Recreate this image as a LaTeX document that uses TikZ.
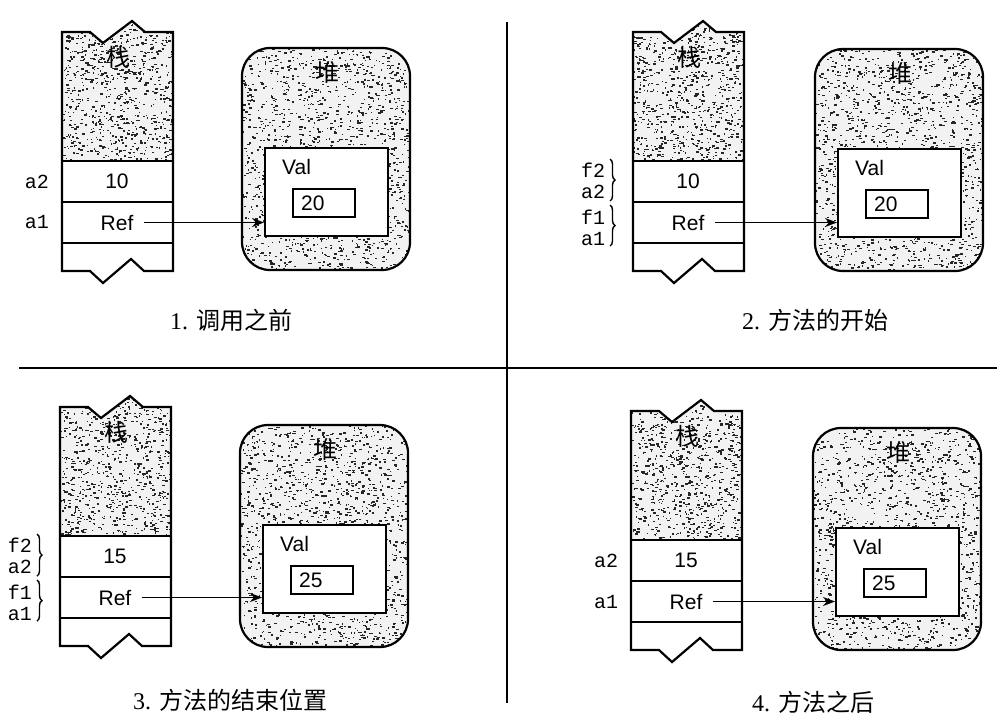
\documentclass[tikz,border=0pt]{standalone}
\usepackage{fontspec}
\setmainfont{Liberation Serif}
\setsansfont{Liberation Sans}
\setmonofont{Liberation Mono}
\newfontfamily\cjk{Noto Sans CJK SC}
\usetikzlibrary{arrows.meta,decorations.pathreplacing,calc}

\newcommand\rkspecks[5]{%
 \foreach \rkk in {1,...,#5}{%
  \pgfmathsetmacro\rkx{#1+rnd*(#3)}%
  \pgfmathsetmacro\rky{#2+rnd*(#4)}%
  \pgfmathsetmacro\rkw{0.8+2.4*rnd}%
  \fill[black!85] (\rkx,\rky) rectangle ++(\rkw,1.4);%
 }}

\tikzset{
 outline/.style={draw=black, line width=2.2pt},
 cellline/.style={draw=black, line width=1.8pt},
 celltext/.style={font=\sffamily\fontsize{21}{21}\selectfont, inner sep=0pt},
 cjklabel/.style={font=\cjk\fontsize{24}{24}\selectfont, inner sep=0pt},
 varlabel/.style={font=\ttfamily\fontsize{20}{20}\selectfont, inner sep=0pt},
 captiontext/.style={font=\fontsize{24}{24}\selectfont, inner sep=0pt},
 ptr/.style={line width=1.7pt, -{Stealth[length=12pt,width=9pt]}},
 divider/.style={line width=1.8pt},
 bracestyle/.style={decorate, decoration={brace, amplitude=5pt}, line width=1.4pt},
 texturebase/.style={fill=black!5},
}

% #1 prefix, #2 sx, #3 sy, #4 hx, #5 hy, #6 stack number, #7 heap number, #8 label mode
\newcommand\rkpanel[8]{%
 \begin{scope}
  \clip (#2,#3) -- ({#2+28},#3) -- ({#2+41},{#3+11}) -- ({#2+70},{#3-11}) -- ({#2+83},#3) -- ({#2+111},#3) -- ({#2+111},{#3+129}) -- (#2,{#3+129}) -- cycle;
  \fill[texturebase] (#2,{#3-12}) rectangle ({#2+111},{#3+129});
  \rkspecks{#2}{#3-12}{111}{141}{800}
 \end{scope}
 \draw[outline] (#2,#3) -- ({#2+28},#3) -- ({#2+41},{#3+11}) -- ({#2+70},{#3-11}) -- ({#2+83},#3) -- ({#2+111},#3)
   -- ({#2+111},{#3+239}) -- ({#2+82},{#3+239}) -- ({#2+69},{#3+227}) -- ({#2+41},{#3+251}) -- ({#2+28},{#3+239}) -- (#2,{#3+239}) -- cycle;
 \draw[cellline] (#2,{#3+129}) -- ({#2+111},{#3+129});
 \draw[cellline] (#2,{#3+170}) -- ({#2+111},{#3+170});
 \draw[cellline] (#2,{#3+211}) -- ({#2+111},{#3+211});
 \begin{scope}
  \clip[rounded corners=28pt] (#4,#5) rectangle ({#4+168},{#5+222});
  \fill[texturebase] (#4,#5) rectangle ({#4+168},{#5+222});
  \rkspecks{#4}{#5}{168}{222}{1500}
 \end{scope}
 \draw[outline, rounded corners=28pt] (#4,#5) rectangle ({#4+168},{#5+222});
 \node[draw, line width=2.2pt, fill=white, minimum width=123pt, minimum height=88pt, anchor=north west, inner sep=0pt] (#1vbox) at ({#4+22},{#5+99}) {};
 \node[celltext, anchor=west] (#1valtxt) at ({#4+40},{#5+119}) {Val};
 \node[draw, line width=1.9pt, minimum width=62pt, minimum height=28pt, anchor=north west, inner sep=0pt] (#1nbox) at ({#4+50},{#5+140}) {};
 \node[celltext, anchor=west] (#1ntxt) at ([xshift=9pt]#1nbox.west) {#7};
 \node[cjklabel] (#1stk) at ({#2+56},{#3+25}) {栈};
 \node[cjklabel] (#1hp) at ({#4+85},{#5+24}) {堆};
 \node[celltext] (#1snum) at ({#2+55},{#3+149.5}) {#6};
 \node[celltext] (#1ref) at ({#2+55},{#3+190.5}) {Ref};
 \draw[ptr] ([xshift=10pt]#1ref.east) -- (#1ref.east -| #1vbox.west);
 \ifnum#8=0
  \node[varlabel] (#1la2) at ({#2-25},{#3+149.5}) {a2};
  \node[varlabel] (#1la1) at ({#2-25},{#3+190.5}) {a1};
 \else
  \node[varlabel] (#1lf2) at ({#2-40},{#3+138}) {f2};
  \node[varlabel] (#1la2) at ({#2-40},{#3+160}) {a2};
  \node[varlabel] (#1lf1) at ({#2-40},{#3+185}) {f1};
  \node[varlabel] (#1la1) at ({#2-40},{#3+207}) {a1};
  \draw[bracestyle] ({#2-23},{#3+127}) -- ({#2-23},{#3+169});
  \draw[bracestyle] ({#2-23},{#3+173}) -- ({#2-23},{#3+214});
 \fi
}

\begin{document}
\begin{tikzpicture}[x=1pt,y=-1pt]
\useasboundingbox (0,0) rectangle (1003,724);
\fill[white] (0,0) rectangle (1003,724);
\pgfmathsetseed{12345}
\draw[divider] (507,22) -- (507,703);
\draw[divider] (19,368) -- (997,368);
\rkpanel{p1}{62}{32}{242}{48}{10}{20}{0}
\rkpanel{p2}{633}{32}{815}{49}{10}{20}{1}
\rkpanel{p3}{60}{407}{240}{425}{15}{25}{1}
\rkpanel{p4}{631}{411}{813}{428}{15}{25}{0}
\node[captiontext] (cap1) at (231,320) {1. {\cjk 调用之前}};
\node[captiontext] (cap2) at (815,320) {2. {\cjk 方法的开始}};
\node[captiontext] (cap3) at (230,700) {3. {\cjk 方法的结束位置}};
\node[captiontext] (cap4) at (813,702) {4. {\cjk 方法之后}};
\end{tikzpicture}
\end{document}
